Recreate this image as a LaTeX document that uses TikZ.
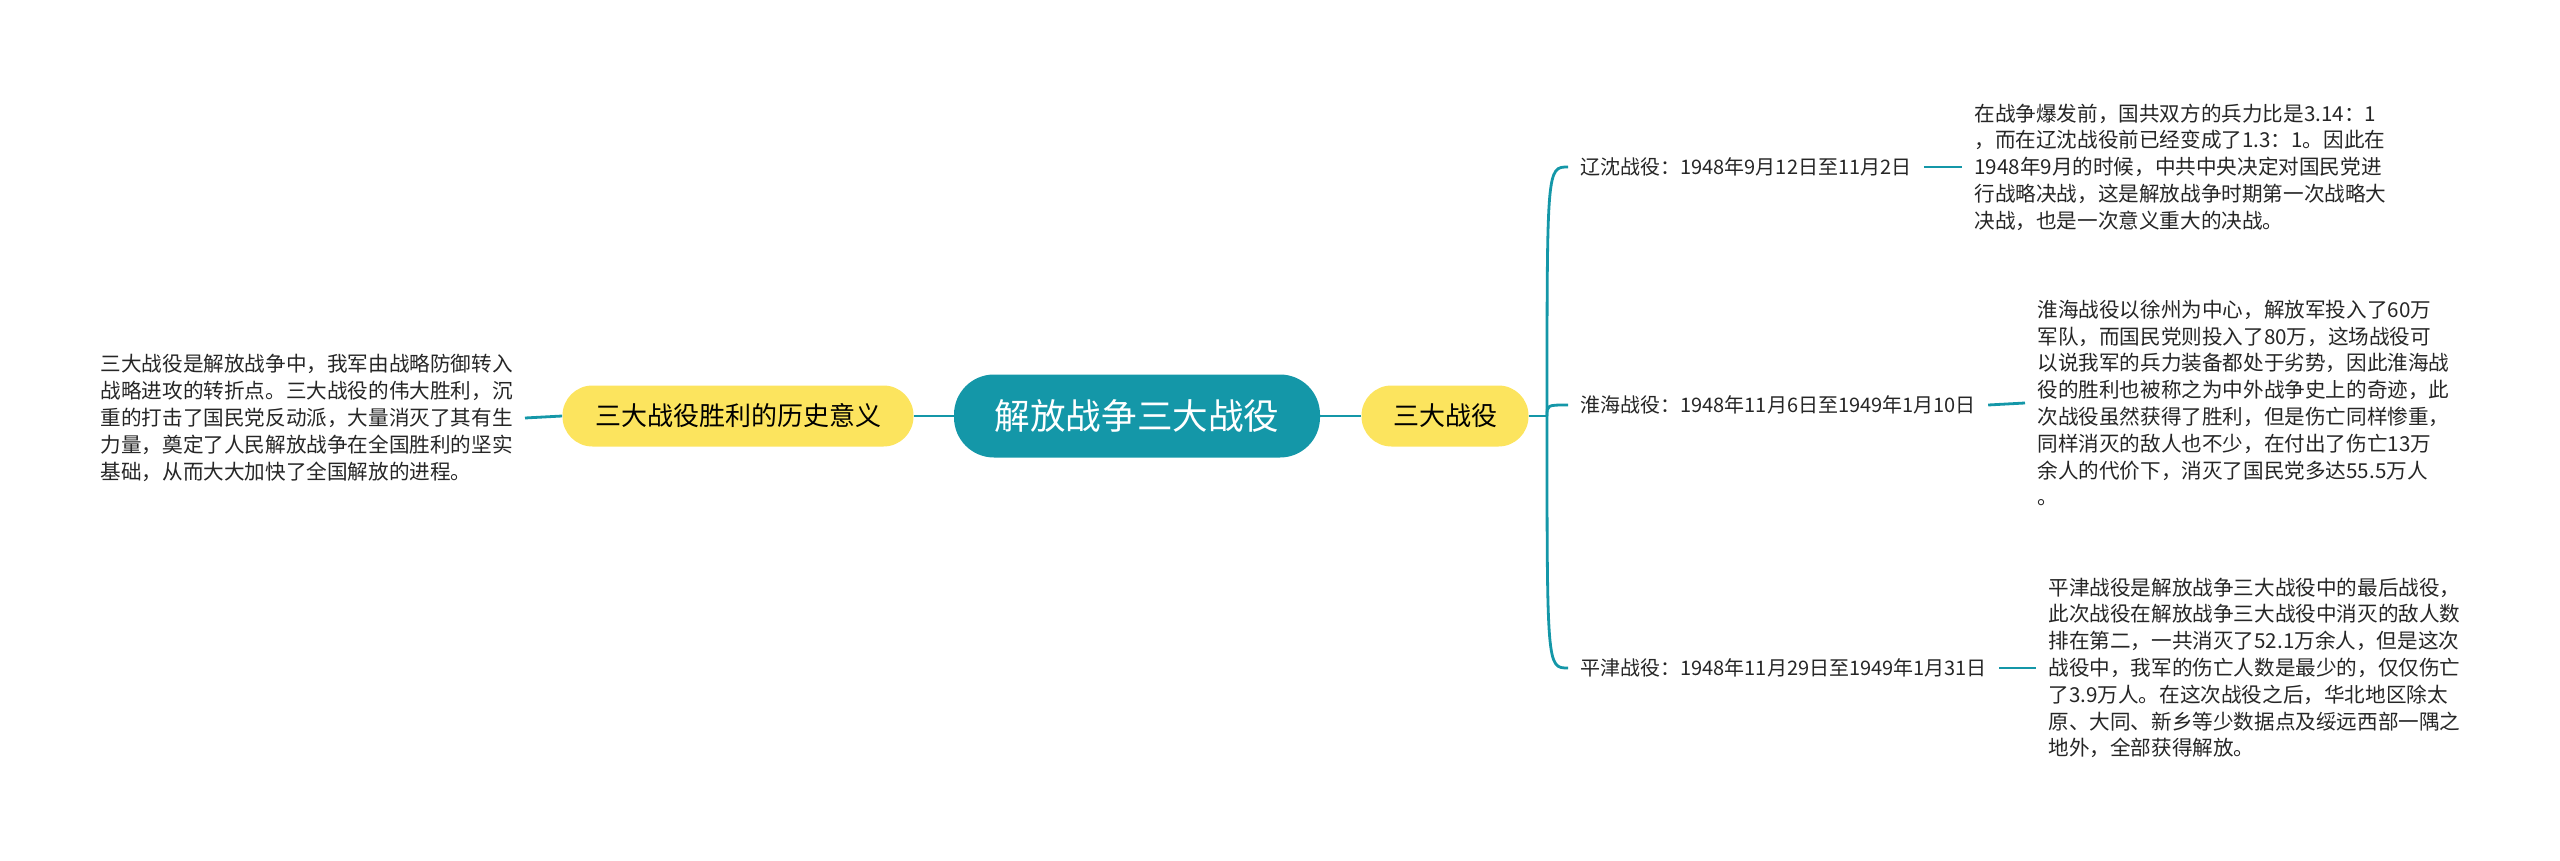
\documentclass[tikz,border=0pt]{standalone}
\usepackage{fontspec}
\setmainfont{Noto Sans CJK SC}
\usepackage{tikz}
\usetikzlibrary{positioning}
\definecolor{mapteal}{HTML}{1497A8}
\definecolor{mapyellow}{HTML}{FCE45E}
\definecolor{notetext}{HTML}{262626}

\begin{document}
\begin{tikzpicture}[x=0.5pt, y=-0.5pt,
    root/.style={fill=mapteal, text=white, rounded corners=20pt, minimum width=183pt, minimum height=41.5pt, inner sep=0pt, font=\fontsize{17.8}{20}\selectfont},
    topic/.style={fill=mapyellow, rounded corners=15pt, minimum height=30.5pt, inner sep=0pt, font=\fontsize{13}{15}\selectfont},
    battle/.style={inner xsep=6pt, inner ysep=2pt, text=notetext, font=\fontsize{10}{12}\selectfont},
    notes/.style={align=left, inner xsep=6pt, inner ysep=2pt, text=notetext, font=\fontsize{10.3}{13.4}\selectfont},
    link/.style={draw=mapteal, line width=1.4pt}
]
\useasboundingbox (0,0) rectangle (2560,861);

% Centre and main topics
\node[root] (war) at (1137,416) {解放战争三大战役};
\node[topic, minimum width=175.5pt] (meaning) at (738,416) {三大战役胜利的历史意义};
\node[topic, minimum width=83.5pt] (battles) at (1445,416) {三大战役};

% The three battles
\node[battle, anchor=west] (liaoshen) at (1568,167) {辽沈战役：1948年9月12日至11月2日};
\node[battle, anchor=west] (huaihai) at (1568,405) {淮海战役：1948年11月6日至1949年1月10日};
\node[battle, anchor=west] (pingjin) at (1568,668) {平津战役：1948年11月29日至1949年1月31日};

% Notes
\node[notes, anchor=west] (liaoshennote) at (1962,167) {%
在战争爆发前，国共双方的兵力比是3.14：1\\%
，而在辽沈战役前已经变成了1.3：1。因此在\\%
1948年9月的时候，中共中央决定对国民党进\\%
行战略决战，这是解放战争时期第一次战略大\\%
决战，也是一次意义重大的决战。};

\node[notes, anchor=west] (huaihainote) at (2025,403) {%
淮海战役以徐州为中心，解放军投入了60万\\%
军队，而国民党则投入了80万，这场战役可\\%
以说我军的兵力装备都处于劣势，因此淮海战\\%
役的胜利也被称之为中外战争史上的奇迹，此\\%
次战役虽然获得了胜利，但是伤亡同样惨重，\\%
同样消灭的敌人也不少，在付出了伤亡13万\\%
余人的代价下，消灭了国民党多达55.5万人\\%
。};

\node[notes, anchor=west] (pingjinnote) at (2036,668) {%
平津战役是解放战争三大战役中的最后战役，\\%
此次战役在解放战争三大战役中消灭的敌人数\\%
排在第二，一共消灭了52.1万余人，但是这次\\%
战役中，我军的伤亡人数是最少的，仅仅伤亡\\%
了3.9万人。在这次战役之后，华北地区除太\\%
原、大同、新乡等少数据点及绥远西部一隅之\\%
地外，全部获得解放。};

\node[notes, anchor=east] (meaningnote) at (525,418) {%
三大战役是解放战争中，我军由战略防御转入\\%
战略进攻的转折点。三大战役的伟大胜利，沉\\%
重的打击了国民党反动派，大量消灭了其有生\\%
力量，奠定了人民解放战争在全国胜利的坚实\\%
基础，从而大大加快了全国解放的进程。};

% Connectors
\coordinate (fork) at (1547,416);
\draw[link] (war.west) -- (meaning.east);
\draw[link] (meaning.west) -- (meaningnote.east);
\draw[link] (war.east) -- (battles.west);
\draw[link] (battles.east) -- (fork);
\draw[link] (fork) .. controls (fork |- liaoshen.west) .. (liaoshen.west);
\draw[link] (fork) .. controls (fork |- huaihai.west) .. (huaihai.west);
\draw[link] (fork) .. controls (fork |- pingjin.west) .. (pingjin.west);
\draw[link] (liaoshen.east) -- (liaoshennote.west);
\draw[link] (huaihai.east) -- (huaihainote.west);
\draw[link] (pingjin.east) -- (pingjinnote.west);
\end{tikzpicture}
\end{document}
